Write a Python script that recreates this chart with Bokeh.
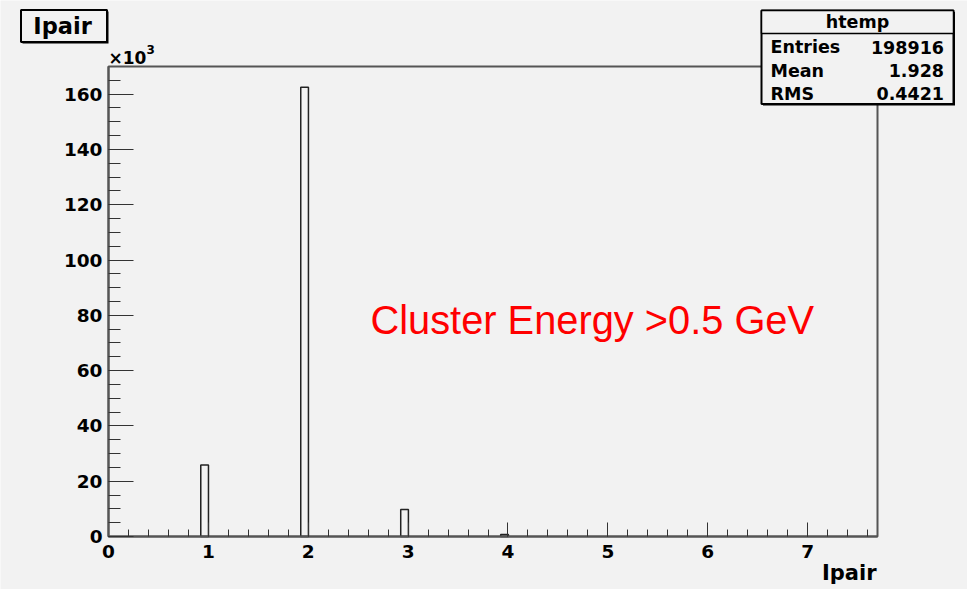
import math
from bokeh.plotting import figure
from bokeh.models import (Range1d, FixedTicker, CustomJSTickFormatter, Label,
                          BoxAnnotation, LinearAxis)
from bokeh.embed import file_html
from bokeh.resources import INLINE

# ---------------- data ----------------
ipair_values = [1, 2, 3, 4]
ipair_counts = [25900, 162500, 9800, 700]
n_bins = 100
x_max = 7.7
y_max = 170000
x_major_ticks = [0, 1, 2, 3, 4, 5, 6, 7]
y_major_ticks = [0, 20000, 40000, 60000, 80000, 100000, 120000, 140000, 160000]
stat_title = "htemp"
stat_names = ["Entries", "Mean", "RMS"]
stat_values = ["198916", "1.928", "0.4421"]
hist_title = "Ipair"
x_label = "Ipair"
note_text = "Cluster Energy >0.5 GeV"

# ---------------- histogram bins ----------------
bw = x_max / n_bins
lefts = [math.floor(v / bw) * bw for v in ipair_values]
rights = [l + bw for l in lefts]

BG = "#f2f2f2"
FONT = "DejaVu Sans"

# layout, in pixels of the picture
W, H = 967, 589
FL, FR, FT, FB = 108, 877, 66, 536   # histogram frame edges


def px2x(px):
    return (px - FL) / (FR - FL) * x_max


def py2y(py):
    return (FB - py) / (FB - FT) * y_max


p = figure(width=W, height=H, output_backend="svg", toolbar_location=None,
           x_range=Range1d(px2x(0), px2x(W)),
           y_range=Range1d(py2y(H), py2y(0)),
           x_axis_location=None, y_axis_location=None, min_border=0)
p.background_fill_color = BG
p.border_fill_color = BG
p.outline_line_color = None
p.grid.visible = False

# histogram frame
p.add_layout(BoxAnnotation(left=0, right=x_max, bottom=0, top=y_max,
                           fill_color=None, fill_alpha=0, line_color="#555555",
                           line_width=2, line_alpha=1, level="underlay"))

p.quad(left=lefts, right=rights, bottom=0, top=ipair_counts,
       fill_color=None, line_color="#222222", line_width=1.5)

# axes
xaxis = LinearAxis(fixed_location=0, bounds=(0, x_max))
yaxis = LinearAxis(fixed_location=0, bounds=(0, y_max))
for ax in (xaxis, yaxis):
    ax.axis_line_color = "#555555"
    ax.axis_line_width = 2
    ax.major_tick_line_color = "#333333"
    ax.minor_tick_line_color = "#333333"
    ax.major_tick_out = 0
    ax.minor_tick_out = 0
    ax.major_label_text_font = FONT
    ax.major_label_text_font_style = "bold"
    ax.major_label_text_font_size = "18.5px"
    ax.major_label_text_color = "black"

xaxis.ticker = FixedTicker(ticks=x_major_ticks,
                           minor_ticks=[i * 0.2 for i in range(0, 39)])
xaxis.major_tick_in = 14
xaxis.minor_tick_in = 7
xaxis.major_label_standoff = 8

yaxis.ticker = FixedTicker(ticks=y_major_ticks,
                           minor_ticks=[i * 5000 for i in range(0, 34)])
yaxis.major_tick_in = 25
yaxis.minor_tick_in = 12
yaxis.major_label_standoff = 6
yaxis.formatter = CustomJSTickFormatter(code="return (tick/1000).toFixed(0);")

p.add_layout(xaxis, "below")
p.add_layout(yaxis, "left")


def text(px, py, s, size, align="left", font=FONT, style="bold", color="black"):
    p.add_layout(Label(x=px2x(px), y=py2y(py), text=s, text_font=font,
                       text_font_style=style, text_font_size=size,
                       text_baseline="middle", text_align=align, text_color=color))


def box(l, t, r, b, lw=2, shadow=1.5):
    if shadow:
        p.add_layout(BoxAnnotation(left=px2x(l + shadow), right=px2x(r + shadow),
                                   top=py2y(t + shadow), bottom=py2y(b + shadow),
                                   fill_color="black", fill_alpha=1, line_color=None))
    p.add_layout(BoxAnnotation(left=px2x(l), right=px2x(r), top=py2y(t), bottom=py2y(b),
                               fill_color=BG, fill_alpha=1, line_color="black",
                               line_width=lw, line_alpha=1))


# x10^3 multiplier
text(108, 57.5, "\u00d710", "17px")
text(146, 49, "3", "12px")

# x axis title
text(876, 572, x_label, "21px", align="right")

# histogram title box
box(20.5, 9.5, 106.5, 41.5)
text(62, 25, hist_title, "22.5px", align="center")

# stats box
box(761, 10, 953, 103.5)
box(761, 10, 953, 33, lw=1.5, shadow=0)
text(857, 21, stat_title, "17.5px", align="center")
row_mid = [46.5, 70, 93]
for name, val, ym in zip(stat_names, stat_values, row_mid):
    text(770, ym, name, "17.5px")
    text(943.5, ym, val, "17.5px", align="right")

# red annotation
text(370, 319.5, note_text, "39.8px", font="Liberation Sans", style="normal",
     color="#ff0000")

open("out.html", "w").write(file_html(p, INLINE))
